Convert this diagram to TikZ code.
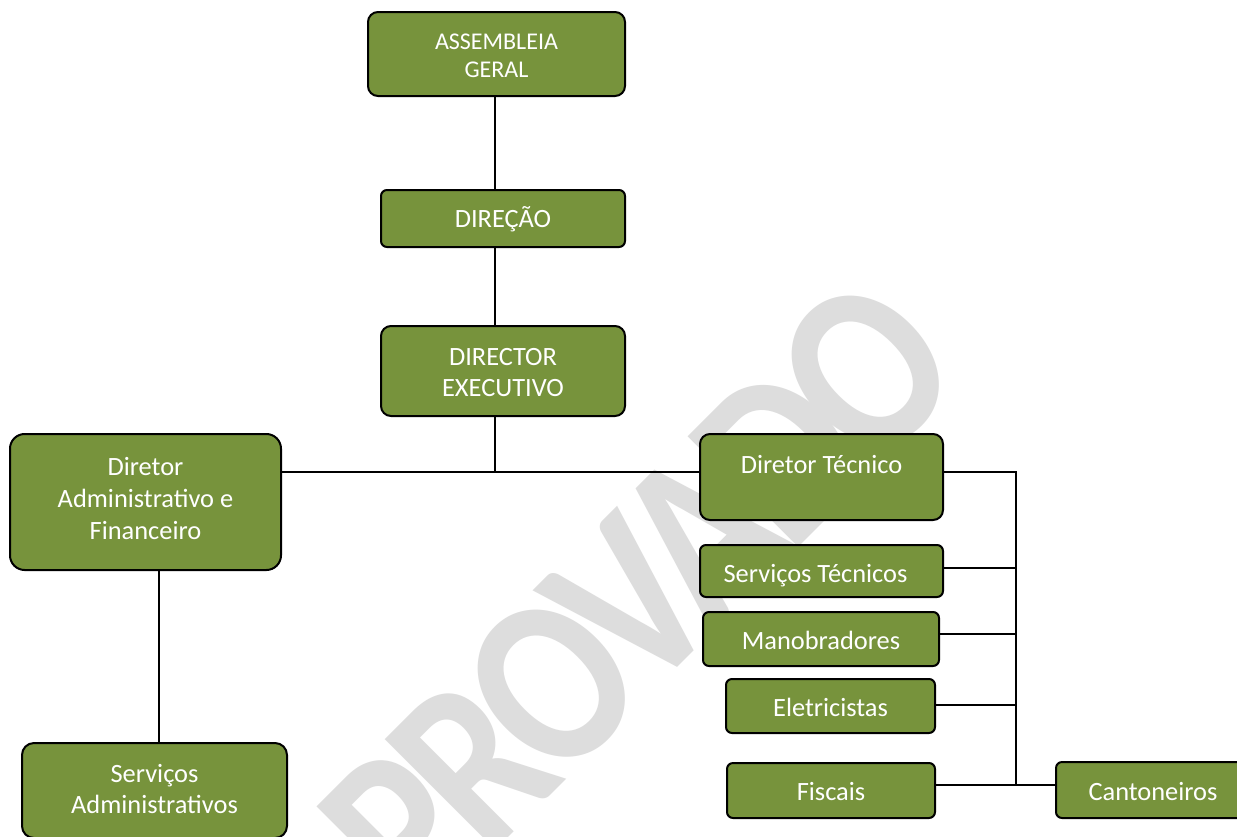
\documentclass[tikz,border=0pt]{standalone}
\usepackage{graphicx}
\usepackage{fontspec}
\setmainfont{Carlito}
\newfontfamily\wmfont{Carlito}[LetterSpace=-6]
\definecolor{boxgreen}{RGB}{119,147,60}
\definecolor{wmgray}{RGB}{221,221,221}
\begin{document}
\begin{tikzpicture}[x=0.75pt,y=-0.75pt,
  box/.style={draw=black, line width=1.5pt, fill=boxgreen, text=white, align=center,
    inner sep=0pt, font=\fontsize{19.8}{24}\selectfont, rounded corners=4.5pt},
  single/.style={text height=15pt, text depth=0pt},
  link/.style={draw=black, line width=1.2pt},
  wm/.style={text=wmgray, font=\wmfont\bfseries\fontsize{152}{180}\selectfont, inner sep=0pt}]
\useasboundingbox (0,0) rectangle (1237,836);
\clip (0,0) rectangle (1237,836);
\fill[white] (0,0) rectangle (1237,836);
% watermark
\node[wm, rotate=45] (wmark) at (600,635) {\scalebox{1}[1.19]{APROVADO}};
% boxes
\node[box, minimum width=257*0.75pt, minimum height=84*0.75pt, rounded corners=7.5pt,
  font=\fontsize{18}{21}\selectfont, text height=35.6pt, text depth=0pt]
  (asm) at (496.5,54) {ASSEMBLEIA\\GERAL};
\node[box, minimum width=244*0.75pt, minimum height=57*0.75pt,
  text height=13.6pt, text depth=0pt] (dir) at (503,218.5) {DIREÇÃO};
\node[box, minimum width=244*0.75pt, minimum height=90*0.75pt, rounded corners=7.5pt,
  font=\fontsize{19.8}{23.25}\selectfont, text height=38.3pt, text depth=0pt]
  (dex) at (503,371) {DIRECTOR\\EXECUTIVO};
\node[box, minimum width=271*0.75pt, minimum height=136*0.75pt, rounded corners=11pt,
  text height=56.3pt, text depth=0pt]
  (dadm) at (145.5,502) {Diretor\\Administrativo e\\Financeiro};
\node[box, minimum width=243*0.75pt, minimum height=86*0.75pt, rounded corners=7.5pt,
  text height=14pt, text depth=19.4pt] (dtec) at (821.5,477) {Diretor Técnico};
\node[box, minimum width=243*0.75pt, minimum height=52*0.75pt,
  text height=17.3pt, text depth=0pt] (stec) at (821.5,571) {Serviços Técnicos\hspace*{9pt}};
\node[box, single, minimum width=236*0.75pt, minimum height=54*0.75pt] (mano) at (821,639) {Manobradores};
\node[box, single, minimum width=209*0.75pt, minimum height=54*0.75pt] (elet) at (830.5,706) {Eletricistas};
\node[box, single, minimum width=208*0.75pt, minimum height=55*0.75pt] (fisc) at (831,790.5) {Fiscais};
\node[box, single, minimum width=194*0.75pt, minimum height=56*0.75pt] (cant) at (1153,790) {Cantoneiros};
\node[box, minimum width=265*0.75pt, minimum height=95*0.75pt, rounded corners=9pt,
  font=\fontsize{19.8}{23.25}\selectfont, text height=34.6pt, text depth=0pt]
  (sadm) at (154.5,790.5) {Serviços\\Administrativos};
% junction coordinates
\coordinate (cx) at (495,472);
\coordinate (btop) at (1016,472);
\coordinate (bbot) at (1016,785);
\coordinate (ystec) at (0,568);
\coordinate (ymano) at (0,634);
\coordinate (yelet) at (0,705);
\coordinate (yfisc) at (0,785);
\coordinate (xadm) at (159,0);
% connectors
\draw[link] (asm.south -| cx) -- (dir.north -| cx);
\draw[link] (dir.south -| cx) -- (dex.north -| cx);
\draw[link] (dex.south -| cx) -- (cx);
\draw[link] (dadm.east |- cx) -- (dtec.west |- cx);
\draw[link] (dadm.south -| xadm) -- (sadm.north -| xadm);
\draw[link] (dtec.east |- btop) -- (btop) -- (bbot);
\draw[link] (stec.east |- ystec) -- (btop |- ystec);
\draw[link] (mano.east |- ymano) -- (btop |- ymano);
\draw[link] (elet.east |- yelet) -- (btop |- yelet);
\draw[link] (fisc.east |- yfisc) -- (cant.west |- yfisc);
\end{tikzpicture}
\end{document}
